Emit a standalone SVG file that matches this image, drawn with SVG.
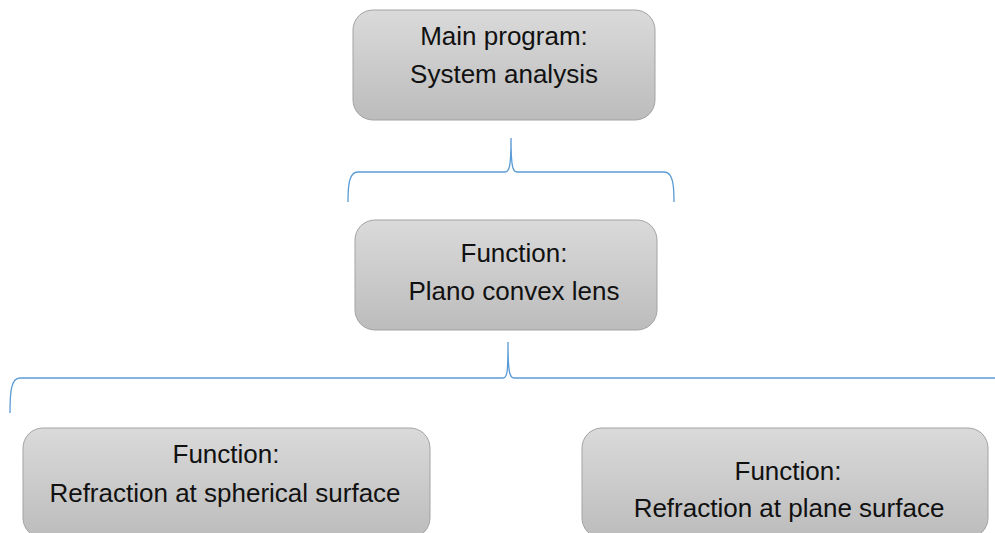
<svg xmlns="http://www.w3.org/2000/svg" width="995" height="533" viewBox="0 0 995 533">
  <defs>
    <linearGradient id="boxFill" x1="0" y1="0" x2="0" y2="1">
      <stop offset="0" stop-color="#dadada"/>
      <stop offset="1" stop-color="#bcbcbc"/>
    </linearGradient>
    <style>
      .box { fill: url(#boxFill); stroke: #a3a3a3; stroke-width: 1; }
      .lbl { font-family: "Liberation Sans", Arial, sans-serif; font-size: 26px; fill: #111; text-anchor: middle; }
      .brace { fill: none; stroke: #5b9bd5; stroke-width: 1.3; }
    </style>
  </defs>
  <rect width="995" height="533" fill="#ffffff"/>

  <g id="main-program">
    <rect class="box" x="353" y="10" width="302" height="110" rx="20"/>
    <text class="lbl" x="504" y="45">Main program:</text>
    <text class="lbl" x="504" y="83">System analysis</text>
  </g>

  <g id="plano-convex-lens">
    <rect class="box" x="355" y="220" width="302" height="110" rx="20"/>
    <text class="lbl" x="514" y="262">Function:</text>
    <text class="lbl" x="514" y="300">Plano convex lens</text>
  </g>

  <g id="spherical-surface">
    <rect class="box" x="23" y="428" width="407" height="110" rx="20"/>
    <text class="lbl" x="226" y="463">Function:</text>
    <text class="lbl" x="225" y="502">Refraction at spherical surface</text>
  </g>

  <g id="plane-surface">
    <rect class="box" x="582" y="428" width="406" height="110" rx="20"/>
    <text class="lbl" x="788" y="480">Function:</text>
    <text class="lbl" x="789" y="517">Refraction at plane surface</text>
  </g>

  <g id="connectors">
    <!-- brace under the main program -->
    <path class="brace" d="M348 202 C348 185 349 172 358 172 L505 172 C509 172 511 168 511 138 C511 168 513 172 517 172 L664 172 C673 172 674 185 674 202"/>
    <!-- brace under the lens function -->
    <path class="brace" d="M10 413 C10 392 11 378 20 378 L503 378 C507 378 508 374 508 342 C508 374 510 378 514 378 L995 378"/>
  </g>
</svg>
